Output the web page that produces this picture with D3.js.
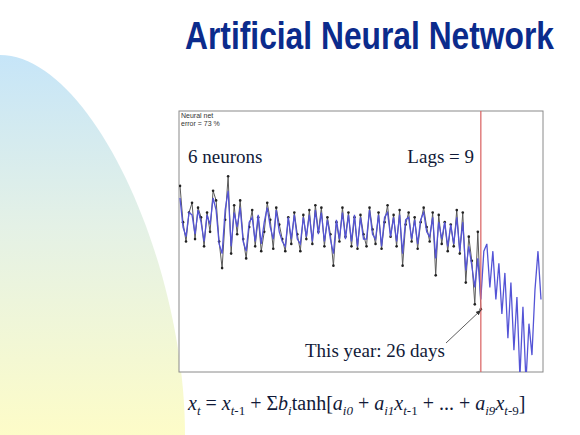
<!DOCTYPE html>
<html>
<head>
<meta charset="utf-8">
<script src="https://cdn.jsdelivr.net/npm/d3@7"></script>
<style>
  html, body { margin: 0; padding: 0; background: #fff; }
  svg { display: block; }
</style>
</head>
<body>
<svg id="viz" width="580" height="435"></svg>
<script>
// observed series (days), one value per year
const observed = [77, 62, 54, 66, 70, 55, 68, 64, 52, 66, 58, 75, 71, 54, 43, 63, 81, 49, 69, 57,
  71, 55, 47, 60, 67, 52, 64, 50, 58, 70, 63, 51, 68, 61, 55, 50, 64, 53, 66, 57,
  50, 65, 55, 67, 53, 69, 58, 68, 52, 64, 57, 44, 62, 54, 68, 56, 66, 52, 64, 51,
  65, 57, 52, 68, 59, 53, 66, 51, 62, 69, 56, 65, 52, 67, 44, 61, 66, 54, 64, 51,
  62, 68, 60, 54, 66, 40, 65, 53, 62, 50, 61, 52, 67, 49, 66, 37, 56, 46, 28, 58, 26];

// network output: fitted part, then forecast beyond this year
const network = [72, 60, 56, 66, 65, 57, 67, 62, 54, 65, 61, 72, 67, 53, 49, 67, 75, 52, 66, 60,
  68, 54, 50, 62, 64, 54, 65, 53, 62, 68, 60, 55, 67, 58, 54, 52, 64, 55, 65, 55,
  53, 64, 56, 65, 54, 67, 57, 66, 54, 63, 55, 49, 63, 55, 66, 55, 65, 54, 65, 52,
  64, 55, 55, 67, 57, 55, 65, 52, 64, 66, 56, 64, 54, 65, 49, 63, 64, 55, 63, 53,
  63, 66, 58, 56, 64, 47, 62, 55, 62, 52, 61, 53, 64, 50, 62, 42, 52, 44, 35, 47,
  30, 50, 53, 35, 50, 30, 45, 24, 41, 14, 37, 9, 31, -2, 27, -4, 20, 7, 34, 50, 30];

const thisYear = 100;
const neurons = 6;
const lags = 9;
const errorPct = 73;
const daysThisYear = 26;

const svg = d3.select("#viz");

// background decoration
const defs = svg.append("defs");
const grad = defs.append("linearGradient")
  .attr("id", "bg").attr("x1", 0).attr("y1", 0).attr("x2", 0).attr("y2", 1);
grad.append("stop").attr("offset", "0%").attr("stop-color", "#c6e5f8");
grad.append("stop").attr("offset", "45%").attr("stop-color", "#e4f1e6");
grad.append("stop").attr("offset", "100%").attr("stop-color", "#fdfcc8");

svg.append("path")
  .attr("d", "M0,55 C90,55 185,260 185,435 L0,435 Z")
  .attr("fill", "url(#bg)");

// title (condensed bold, squeezed horizontally)
svg.append("text")
  .attr("transform", "translate(185,49) scale(0.815,1)")
  .style("font-family", "'Liberation Sans', Arial, sans-serif")
  .style("font-weight", "bold")
  .style("font-size", "39px")
  .style("fill", "#0b2b8c")
  .text("Artificial Neural Network");

// chart frame
const frame = { left: 179, top: 111, right: 543, bottom: 372 };

svg.append("rect")
  .attr("x", frame.left).attr("y", frame.top)
  .attr("width", frame.right - frame.left).attr("height", frame.bottom - frame.top)
  .attr("fill", "#fff").attr("stroke", "#8a8a8a").attr("stroke-width", 1);

defs.append("clipPath").attr("id", "plotclip")
  .append("rect")
  .attr("x", frame.left).attr("y", frame.top)
  .attr("width", frame.right - frame.left).attr("height", frame.bottom - frame.top);

const x = d3.scaleLinear().domain([0, 121]).range([180, 544]);
const y = d3.scaleLinear().domain([0, 108]).range([frame.bottom, frame.top]);

const plot = svg.append("g").attr("clip-path", "url(#plotclip)");

const line = d3.line().x((d, i) => x(i)).y(d => y(d));

plot.append("path")
  .datum(observed)
  .attr("d", line)
  .attr("fill", "none")
  .attr("stroke", "#5a5a5a")
  .attr("stroke-width", 1);

plot.append("g")
  .selectAll("circle")
  .data(observed)
  .join("circle")
  .attr("cx", (d, i) => x(i))
  .attr("cy", d => y(d))
  .attr("r", 1.3)
  .attr("fill", "#222");

plot.append("path")
  .datum(network)
  .attr("d", line)
  .attr("fill", "none")
  .attr("stroke", "#5454d6")
  .attr("stroke-width", 1.3);

// this year marker
svg.append("line")
  .attr("x1", x(thisYear)).attr("x2", x(thisYear))
  .attr("y1", frame.top).attr("y2", frame.bottom)
  .attr("stroke", "#dc6b6b").attr("stroke-width", 1.3);

// small header text
const small = svg.append("g")
  .style("font-family", "Arial, 'Liberation Sans', sans-serif")
  .style("font-size", "7px")
  .style("fill", "#333");
small.append("text").attr("x", 181).attr("y", 118).text("Neural net");
small.append("text").attr("x", 181).attr("y", 126).text("error = " + errorPct + " %");

// annotations
const serif = "'Liberation Serif', 'Times New Roman', serif";
const ann = svg.append("g")
  .style("font-family", serif)
  .style("font-size", "19px")
  .style("fill", "#111a38");
ann.append("text").attr("x", 188).attr("y", 163).text(neurons + " neurons");
ann.append("text").attr("x", 474).attr("y", 163).attr("text-anchor", "end").text("Lags = " + lags);
ann.append("text").attr("x", 305).attr("y", 357).text("This year: " + daysThisYear + " days");

// arrow to this year's value
defs.append("marker")
  .attr("id", "arrow").attr("viewBox", "0 0 10 10")
  .attr("refX", 9).attr("refY", 5)
  .attr("markerWidth", 7).attr("markerHeight", 7)
  .attr("orient", "auto")
  .append("path").attr("d", "M0,1 L10,5 L0,9 Z").attr("fill", "#333");

svg.append("line")
  .attr("x1", 446).attr("y1", 343)
  .attr("x2", x(thisYear)).attr("y2", y(observed[thisYear]) + 1)
  .attr("stroke", "#333").attr("stroke-width", 0.8)
  .attr("marker-end", "url(#arrow)");

// formula
const parts = [
  ["x", "i"], ["t", "si"], [" = ", "n"], ["x", "i"], ["t", "si"], ["-1", "s"],
  [" + Σ", "n"], ["b", "i"], ["i", "si"], ["tanh[", "n"],
  ["a", "i"], ["i0", "si"], [" + ", "n"],
  ["a", "i"], ["i1", "si"], ["x", "i"], ["t", "si"], ["-1", "s"],
  [" + ... + ", "n"],
  ["a", "i"], ["i9", "si"], ["x", "i"], ["t", "si"], ["-9", "s"], ["]", "n"]
];

const formula = svg.append("text")
  .attr("x", 188).attr("y", 410)
  .attr("xml:space", "preserve")
  .style("font-family", serif)
  .style("font-size", "20px")
  .style("fill", "#111a38");

let wasSub = false;
parts.forEach(([t, s]) => {
  const sub = s === "s" || s === "si";
  const ts = formula.append("tspan").text(t);
  if (sub && !wasSub) ts.attr("dy", 5);
  if (!sub && wasSub) ts.attr("dy", -5);
  if (sub) ts.style("font-size", "13px");
  if (s === "i" || s === "si") ts.style("font-style", "italic");
  wasSub = sub;
});
</script>
</body>
</html>
